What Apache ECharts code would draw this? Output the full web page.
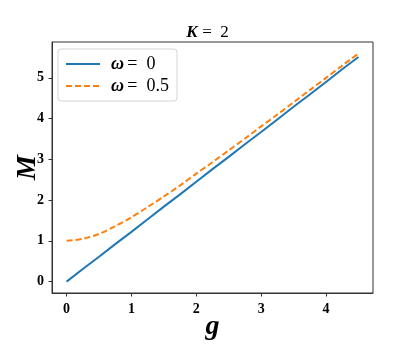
<!DOCTYPE html>
<html>
<head>
<meta charset="utf-8">
<script src="https://cdn.jsdelivr.net/npm/echarts@6/dist/echarts.min.js"></script>
<style>
  html, body { margin: 0; padding: 0; background: #fff; }
  #main { width: 415px; height: 346px; }
</style>
</head>
<body>
<div id="main"></div>
<script>
// g values read along the x axis
var gVals = [0, 0.25, 0.5, 0.75, 1, 1.25, 1.5, 1.75, 2, 2.25, 2.5, 2.75, 3, 3.25, 3.5, 3.75, 4, 4.25, 4.5];
// M for omega = 0 (straight line)
var mOmega0 = [0, 0.31, 0.61, 0.92, 1.22, 1.53, 1.84, 2.14, 2.45, 2.76, 3.06, 3.37, 3.67, 3.98, 4.29, 4.59, 4.90, 5.21, 5.51];
// M for omega = 0.5 (dashed)
var mOmega05 = [1.00, 1.05, 1.17, 1.36, 1.58, 1.83, 2.09, 2.36, 2.65, 2.93, 3.22, 3.51, 3.81, 4.10, 4.40, 4.70, 5.00, 5.30, 5.60];
var xTicks = [0, 1, 2, 3, 4];
var yTicks = [0, 1, 2, 3, 4, 5];
var seriesNames = ['w0', 'w05'];

var serif = '"Liberation Serif", "DejaVu Serif", serif';

function pairs(xs, ys) {
  var out = [];
  for (var i = 0; i < xs.length; i++) out.push([xs[i], ys[i]]);
  return out;
}

var myChart = echarts.init(document.getElementById('main'), null, { renderer: 'canvas' });

var option = {
  backgroundColor: '#fff',
  animation: false,
  title: {
    text: '{k|K} {n|=  2}',
    left: 'center',
    top: 24,
    padding: 0,
    textStyle: {
      fontSize: 17,
      fontWeight: 'normal',
      rich: {
        k: { fontFamily: serif, fontSize: 17, fontWeight: 'bold', fontStyle: 'italic', color: '#000' },
        n: { fontFamily: serif, fontSize: 17, fontWeight: 'normal', color: '#000' }
      }
    }
  },
  legend: {
    orient: 'vertical',
    left: 58,
    top: 49,
    padding: [6, 8, 6, 7],
    itemGap: 4,
    itemWidth: 34,
    itemHeight: 16,
    backgroundColor: '#fff',
    borderColor: '#d4d4d4',
    borderWidth: 1,
    borderRadius: 3,
    data: seriesNames,
    itemStyle: { opacity: 0 },
    formatter: function (name) {
      return name === 'w0' ? '{w|ω} {n|=  0}' : '{w|ω} {n|=  0.5}';
    },
    textStyle: {
      padding: [0, 0, 0, 6],
      rich: {
        w: { fontFamily: serif, fontSize: 18, fontWeight: 'bold', fontStyle: 'italic', color: '#000' },
        n: { fontFamily: serif, fontSize: 18, color: '#000' }
      }
    }
  },
  grid: {
    left: 52,
    right: 42,
    top: 42,
    bottom: 44,
    show: true,
    borderColor: '#333',
    borderWidth: 1,
    backgroundColor: 'transparent'
  },
  xAxis: {
    type: 'value',
    min: -0.225,
    max: 4.725,
    name: 'g',
    nameLocation: 'middle',
    nameGap: 20,
    nameMoveOverlap: false,
    nameTextStyle: { fontFamily: serif, fontSize: 28, fontWeight: 'bold', fontStyle: 'italic', color: '#000' },
    axisLine: { show: true, onZero: false, lineStyle: { color: '#333', width: 1 } },
    axisTick: { show: true, inside: false, length: 3.5, lineStyle: { color: '#333' }, customValues: xTicks },
    axisLabel: { customValues: xTicks, margin: 9, fontFamily: serif, fontSize: 14, fontWeight: 'bold', color: '#000' },
    splitLine: { show: false }
  },
  yAxis: {
    type: 'value',
    min: -0.28,
    max: 5.88,
    name: 'M',
    nameLocation: 'middle',
    nameGap: 10,
    nameRotate: 90,
    nameMoveOverlap: false,
    nameTextStyle: { fontFamily: serif, fontSize: 28, fontWeight: 'bold', fontStyle: 'italic', color: '#000' },
    axisLine: { show: true, onZero: false, lineStyle: { color: '#333', width: 1 } },
    axisTick: { show: true, inside: false, length: 3.5, lineStyle: { color: '#333' }, customValues: yTicks },
    axisLabel: { customValues: yTicks, margin: 8, fontFamily: serif, fontSize: 14, fontWeight: 'bold', color: '#000' },
    splitLine: { show: false }
  },
  series: [{
    name: 'w0',
    type: 'line',
    symbol: 'none',
    color: '#1f77b4',
    lineStyle: { color: '#1f77b4', width: 2 },
    data: pairs(gVals, mOmega0)
  }, {
    name: 'w05',
    type: 'line',
    symbol: 'none',
    smooth: 0.3,
    color: '#ff7f0e',
    lineStyle: { color: '#ff7f0e', width: 2, type: [6, 3] },
    data: pairs(gVals, mOmega05)
  }]
};

myChart.setOption(option);
</script>
</body>
</html>
